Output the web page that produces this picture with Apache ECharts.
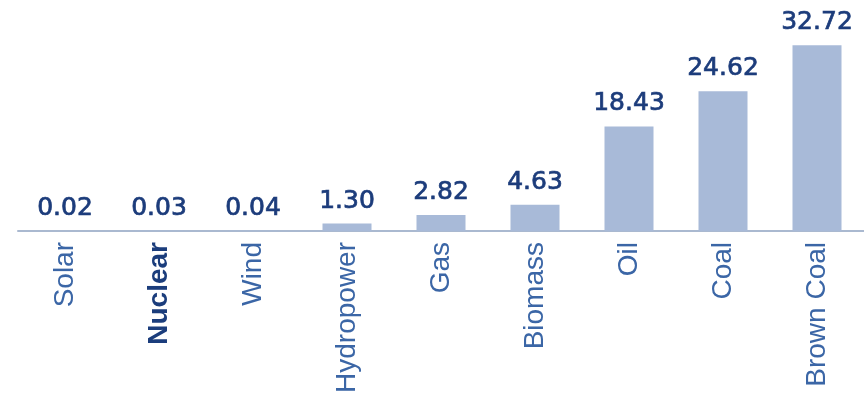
<!DOCTYPE html>
<html>
<head>
<meta charset="utf-8">
<script src="https://cdn.jsdelivr.net/npm/echarts@6/dist/echarts.min.js"></script>
<style>
html,body{margin:0;padding:0;background:#fff;}
#c{width:864px;height:408px;}
</style>
</head>
<body>
<div id="c"></div>
<script>
const categories = ['Solar', 'Nuclear', 'Wind', 'Hydropower', 'Gas', 'Biomass', 'Oil', 'Coal', 'Brown Coal'];
const values = [0.02, 0.03, 0.04, 1.30, 2.82, 4.63, 18.43, 24.62, 32.72];
const highlighted = 'Nuclear';

const chart = echarts.init(document.getElementById('c'), null, {renderer: 'canvas'});
chart.setOption({
  backgroundColor: '#ffffff',
  animation: false,
  grid: {left: 18, top: 4, width: 848, height: 227, containLabel: false},
  xAxis: {
    type: 'category',
    data: categories,
    axisLine: {show: true, lineStyle: {color: '#aab9d0', width: 2}},
    axisTick: {show: false},
    axisLabel: {
      interval: 0,
      rotate: 90,
      margin: 11,
      fontFamily: 'Liberation Sans',
      fontSize: 28,
      color: '#3b66a6',
      formatter: function (v) { return v === highlighted ? '{b|' + v + '}' : v; },
      rich: {b: {fontFamily: 'Liberation Sans', fontSize: 28, fontWeight: 'bold', color: '#1b3d7c'}}
    }
  },
  yAxis: {
    type: 'value',
    min: 0,
    max: 40,
    show: false,
    splitLine: {show: false}
  },
  series: [{
    type: 'bar',
    data: values,
    barWidth: 49,
    itemStyle: {color: '#a8bad8'},
    label: {
      show: true,
      position: 'top',
      distance: 10,
      fontFamily: 'DejaVu Sans',
      fontSize: 25,
      fontWeight: 'normal',
      color: '#1c3c7b',
      textBorderColor: '#1c3c7b',
      textBorderWidth: 0.7,
      formatter: function (p) { return p.value.toFixed(2); }
    }
  }]
});
</script>
</body>
</html>
